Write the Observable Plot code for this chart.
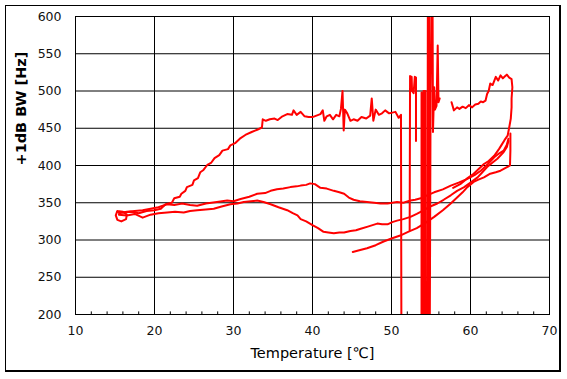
<!DOCTYPE html>
<html>
<head>
<meta charset="utf-8">
<script src="https://cdn.jsdelivr.net/npm/d3@7"></script>
<script src="https://cdn.jsdelivr.net/npm/@observablehq/plot@0.6"></script>
<style>
  html, body { margin: 0; padding: 0; background: #fff; }
  #wrap { position: relative; width: 567px; height: 379px; overflow: hidden; }
  #box { position: absolute; left: 5px; top: 5px; width: 556px; height: 367px; box-sizing: border-box;
         border-left: 1px solid #000; border-top: 1px solid #000; border-right: 2px solid #000; border-bottom: 2px solid #000; pointer-events: none; }
</style>
</head>
<body>
<div id="wrap"><div id="chart"></div><div id="box"></div></div>
<script>
// ---- tick labels / axis text ----
const xTicks = [10, 20, 30, 40, 50, 60, 70];
const xMinor = [12, 14, 16, 18, 22, 24, 26, 28, 32, 34, 36, 38, 42, 44, 46, 48, 52, 54, 56, 58, 62, 64, 66, 68];
const yTicks = [200, 250, 300, 350, 400, 450, 500, 550, 600];
const xLabel = "Temperature [℃]";
const yLabel = "+1dB BW [Hz]";

// ---- series: [temperature °C, +1dB BW Hz] ----
const startLoop = [[15.3,339],[15.1,333],[15.3,327],[15.8,325],[16.4,328],[16.5,334],[16.0,338],[15.3,339]];

const heatUp = [[15.3,338],[16,337],[17,338],[18,336],[19,339],[20,340],[20.8,342],[21.4,348],[22.2,350],[22.5,356],
  [23.2,358],[23.4,362],[23.9,366],[24.1,371],[24.8,374],[25,380],[25.5,383],[25.8,391],[26.2,394],[26.7,401],
  [27.2,404],[27.6,410],[28.2,414],[28.6,420],[29.3,422],[29.6,427],[30.2,430],[30.8,436],[31.5,441],[32.3,445],
  [33.0,448],[33.6,451],[33.7,462],[34.1,460],[34.6,462],[35.2,463],[35.6,461],[36.2,466],[36.8,469],[37.4,468],
  [37.6,474],[38.0,468],[38.5,472],[39.0,466],[39.5,465],[40.0,465],[40.5,467],[41.0,469],[41.3,474],[41.5,460],
  [41.8,466],[42.2,468],[42.6,462],[43.0,468],[43.4,466],[43.6,476],[43.8,500],[43.95,447],[44.1,475],[44.4,470],
  [44.8,460],[45.2,462],[45.7,460],[46.2,465],[46.8,463],[47.3,467],[47.5,490],[47.7,460],[48.0,475],[48.4,468],
  [48.8,470],[49.2,474],[49.7,470],[50.1,471],[50.5,472],[50.9,464],[51.2,468],[51.25,190]];

const spikesA = [[52.3,313],[52.35,520],[52.55,519],[52.6,500],[52.8,497],[52.95,519],[53.1,518],[53.1,433]];

const spikesB = [[53.8,498],[53.8,190],[54.05,190],[54.05,500],[54.3,500],[54.3,190],[54.55,190],[54.6,610],
  [54.75,610],[54.75,190],[54.85,190],[54.95,500],[55.05,610],[55.2,610],[55.25,445],[55.4,505],[55.5,475],
  [55.7,480],[55.85,561],[55.95,485],[56.1,490]];

const hotEnd = [[57.6,485],[57.9,474],[58.3,478],[58.6,476],[59.0,479],[59.4,477],[59.8,481],[60.2,478],[60.6,482],
  [61.0,483],[61.3,486],[61.6,485],[61.9,487],[62.1,496],[62.3,500],[62.5,510],[62.8,508],[63.2,519],[63.5,514],
  [63.8,521],[64.1,517],[64.4,520],[64.6,522],[64.9,518],[65.2,516],[65.3,505],[65.2,490],[65.2,478],[65.1,463],
  [64.9,451],[64.7,440],[64.3,434],[63.9,427],[63.6,422],[63.0,413],[62.3,406],[61.7,402],[61.0,395],[60.4,389],
  [59.5,382],[58.7,375],[57.8,370]];

const bandUpper = [[15.5,336],[16.5,338],[17.5,339],[18.5,340],[19.5,342],[20.5,344],[21.6,348],[22.5,347],[23.5,349],
  [24.5,347],[25.4,346],[26.5,349],[27.9,351],[29.2,353],[30.0,352],[30.9,355],[32.0,358],[33.0,362],[34.0,363],
  [34.7,366],[35.5,368],[36.3,369],[37.2,371],[38.0,372],[38.5,373],[39.2,374],[39.7,376],[40.3,375],[41.0,370],
  [41.8,369],[42.7,366],[43.4,364],[44.0,362],[44.6,357],[45.2,354],[46.0,352],[46.9,351],[47.8,350],[48.6,349],
  [49.5,349],[50.7,351],[51.5,350],[52.4,353],[53.0,354],[53.7,356],[54.5,360],[55.4,364],[56.5,368],[57.5,373],
  [58.5,377],[59.6,382],[60.5,387],[61.3,393],[62.2,402],[63.0,411],[63.6,416],[64.2,420],[64.6,428],[64.8,436]];

const bandLower = [[15.5,334],[16.5,333],[17.5,335],[18.5,330],[19.5,334],[20.5,336],[21.6,337],[22.6,338],[23.7,337],
  [24.5,339],[25.4,340],[26.5,341],[27.5,342],[28.5,345],[29.6,348],[30.5,349],[31.3,351],[32.2,352],[33.0,353],
  [33.8,351],[34.7,348],[35.7,344],[36.8,340],[37.5,336],[38.1,333],[38.5,328],[39.2,325],[40.0,320],[40.7,316],
  [41.4,311],[42.0,310],[42.7,309],[43.4,310],[44.0,310],[44.8,312],[45.5,313],[46.1,315],[47.0,318],[47.6,320],
  [48.2,322],[48.8,321],[49.5,321],[50.1,324],[50.7,326],[51.5,328],[52.4,331],[53.2,335],[54.1,340],[54.9,345],
  [55.8,349],[56.6,354],[57.5,360],[58.3,366],[59.2,371],[60.0,377],[60.9,384],[61.5,391],[62.1,398],[62.8,404],
  [63.4,409],[64.2,418],[64.6,425],[64.8,433]];

const lowest = [[45.1,284],[45.8,286],[46.9,289],[48.0,293],[49.0,298],[50.0,302],[51.1,306],[52.1,311],[53.2,316],
  [54.3,323],[55.4,331],[56.5,340],[57.5,349],[58.3,357],[59.0,364],[59.6,371],[60.4,378],[61.0,381],[61.7,384],
  [62.5,389],[63.2,391],[63.8,393],[64.5,397],[65.0,400],[65.05,420],[65.05,443]];

const seriesList = {startLoop, heatUp, spikesA, spikesB, hotEnd, bandUpper, bandLower, lowest};
const rows = [];
for (const [name, pts] of Object.entries(seriesList)) {
  for (const [t, bw] of pts) rows.push({series: name, t, bw});
}

const chart = Plot.plot({
  width: 567,
  height: 379,
  marginLeft: 75,
  marginRight: 18,
  marginTop: 16,
  marginBottom: 65,
  style: {fontFamily: "DejaVu Sans", fontSize: "12px", background: "transparent", color: "#111"},
  x: {domain: [10, 70], label: null},
  y: {domain: [200, 600], label: null},
  marks: [
    Plot.ruleX(xTicks, {stroke: "#000", strokeWidth: 1}),
    Plot.ruleY(yTicks, {stroke: "#000", strokeWidth: 1}),
    Plot.ruleX(xMinor, {y1: 200, y2: 203.5, stroke: "#000", strokeWidth: 1}),
    Plot.line(rows, {x: "t", y: "bw", z: "series", stroke: "#ff0000", strokeWidth: 2, clip: true, curve: "linear"}),
    Plot.frame({stroke: "#000", strokeWidth: 1}),
    Plot.axisX(xTicks, {tickSize: 0, tickPadding: 12, fontSize: 12.5, label: null, fill: "#111"}),
    Plot.axisY(yTicks, {tickSize: 0, tickPadding: 14, fontSize: 12.5, label: null, fill: "#111"}),
    Plot.text([xLabel], {text: d => d, frameAnchor: "bottom", dy: 43, fontSize: 14.5, fill: "#000"}),
    Plot.text([yLabel], {text: d => d, frameAnchor: "left", dx: -54, rotate: -90, fontSize: 14.5, fontWeight: "bold", fill: "#000"})
  ]
});
document.getElementById("chart").appendChild(chart);
</script>
</body>
</html>
